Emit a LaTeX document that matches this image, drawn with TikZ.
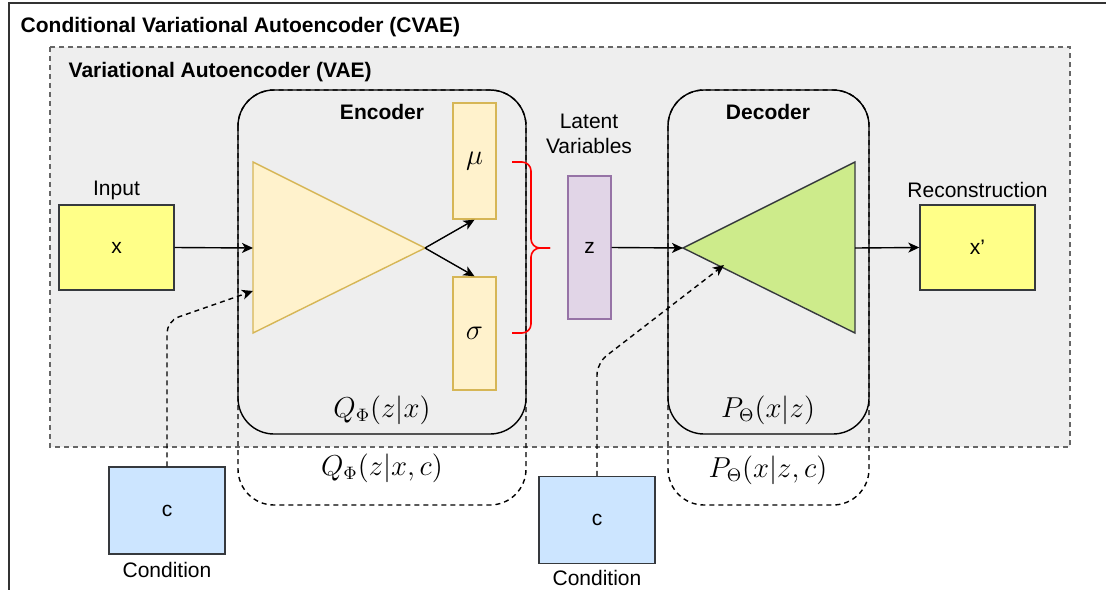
\documentclass[tikz,border=0pt]{standalone}
\usepackage{fontspec}
\setmainfont{Liberation Sans}
\usepackage{amsmath}
\usetikzlibrary{arrows.meta}
\definecolor{vaegray}{HTML}{EEEEEE}
\definecolor{edgegray}{HTML}{36393D}
\definecolor{encfill}{HTML}{FFF2CC}
\definecolor{encline}{HTML}{D6B656}
\definecolor{decfill}{HTML}{CDEB8B}
\definecolor{datafill}{HTML}{FFFF88}
\definecolor{zfill}{HTML}{E1D5E7}
\definecolor{zline}{HTML}{9673A6}
\definecolor{condfill}{HTML}{CCE5FF}

\tikzset{
  dashline/.style={dash pattern=on 2.5pt off 2pt},
  databox/.style={draw=edgegray,fill=datafill,inner sep=0pt,minimum width=57.5pt,minimum height=42.5pt},
  condbox/.style={draw=edgegray,fill=condfill,inner sep=0pt,minimum width=58pt,minimum height=43.5pt},
  parambox/.style={draw=encline,fill=encfill,inner sep=0pt,minimum width=21.5pt,font=\fontsize{13.5}{15}\selectfont},
  netbox/.style={draw=black,rounded corners=18pt,inner sep=0pt,minimum height=172pt},
  titlefont/.style={font=\bfseries\fontsize{10.5}{12.5}\selectfont},
  mathfont/.style={font=\fontsize{13.5}{15}\selectfont}
}

\begin{document}
\begin{tikzpicture}[x=0.5pt,y=-0.5pt,>={Stealth[length=5.5pt,width=5pt,inset=1.5pt]},
    line width=0.7pt,font=\fontsize{10.5}{12.5}\selectfont]
  \clip (0,0) rectangle (1106,589);
  % outer CVAE frame
  \draw[black!80,line width=0.8pt] (9,3) rectangle (1140,640);
  \node[anchor=west,inner sep=0pt,titlefont] (cvae) at (20,27) {Conditional Variational Autoencoder (CVAE)};
  % VAE frame
  \draw[dashline,draw=black!60,fill=vaegray] (50,47) rectangle (1070,447);
  \node[anchor=west,inner sep=0pt,titlefont] (vae) at (68,72) {Variational Autoencoder (VAE)};
  % conditioned encoder / decoder outlines
  \draw[dashline,rounded corners=18pt] (238,90) rectangle (526,505);
  \draw[dashline,rounded corners=18pt] (668,90) rectangle (869,505);
  \node[netbox,minimum width=144pt] (enc) at (382,262) {};
  \node[netbox,minimum width=100.5pt] (dec) at (768.5,262) {};
  \node[titlefont] (enclabel) at (382,112) {Encoder};
  \node[titlefont] (declabel) at (768,112) {Decoder};
  \node[mathfont] (qvae) at (382,410) {$Q_{\Phi}(z|x)$};
  \node[mathfont] (qcvae) at (382,468) {$Q_{\Phi}(z|x,c)$};
  \node[mathfont] (pvae) at (768,410) {$P_{\Theta}(x|z)$};
  \node[mathfont] (pcvae) at (768,470) {$P_{\Theta}(x|z,c)$};

  % encoder network
  \coordinate (encin) at (253,248);
  \coordinate (enctip) at (425,248);
  \coordinate (enccond) at (253,291);
  \draw[draw=encline,fill=encfill] (253,162) -- (enctip) -- (253,333) -- cycle;
  \node[parambox,minimum height=58pt] (mu) at (474.5,161) {$\mu$};
  \node[parambox,minimum height=56.5pt] (sigma) at (474.5,333.5) {$\sigma$};
  \draw[red,line width=0.8pt,rounded corners=4.5pt] (512,162) -- (531,162) -- (531,248) -- (550,248);
  \draw[red,line width=0.8pt,rounded corners=4.5pt] (512,333) -- (531,333) -- (531,248) -- (550,248);

  % latent variables
  \node[align=center] (latentlabel) at (589,134) {Latent\\Variables};
  \node[draw=zline,fill=zfill,inner sep=0pt,minimum width=21.5pt,minimum height=71.5pt] (latent) at (589.5,247.5) {z};

  % decoder network
  \coordinate (dectip) at (683,248);
  \coordinate (decout) at (855,248);
  \coordinate (deccond) at (724,265);
  \draw[draw=edgegray,fill=decfill] (dectip) -- (855,162) -- (855,333) -- cycle;

  % data and conditions
  \node[databox] (input) at (116.5,247.5) {x};
  \node (inputlabel) at (116.5,190) {Input};
  \node[databox] (recon) at (977.5,247.5) {x\symbol{39}};
  \node (reconlabel) at (977.5,190) {Reconstruction};
  \node[condbox] (cond1) at (167,510.5) {c};
  \node (cond1label) at (167,570) {Condition};
  \node[condbox] (cond2) at (597,520) {c};
  \node (cond2label) at (597,578) {Condition};

  % connectors
  \draw[->] (input.east) -- (encin);
  \draw[->] (enctip) -- (mu.south);
  \draw[->] (enctip) -- (sigma.north);
  \draw[->] (latent.east) -- (dectip);
  \draw[->] (decout) -- (recon.west);
  \draw[->,dashline,rounded corners=6pt] (cond1.north) -- (167,321) -- (enccond);
  \draw[->,dashline,rounded corners=6pt] (cond2.north) -- (597,363) -- (deccond);
\end{tikzpicture}
\end{document}
